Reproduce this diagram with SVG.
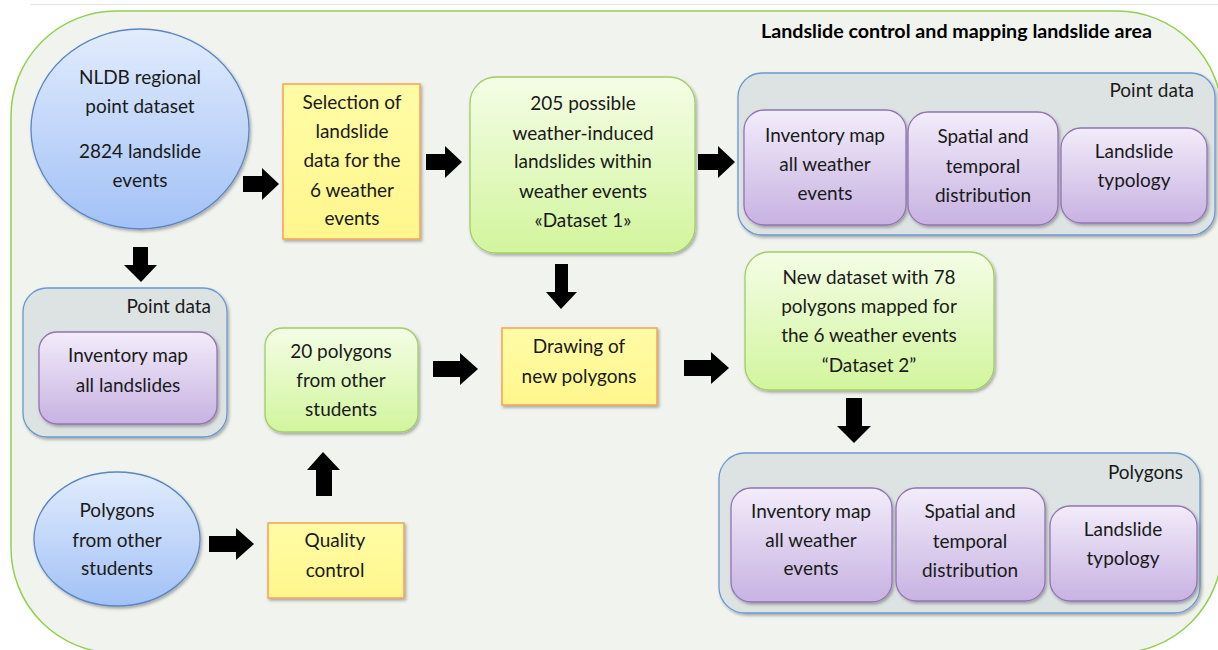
<svg xmlns="http://www.w3.org/2000/svg" width="1218" height="650" viewBox="0 0 1218 650">
<defs>
<linearGradient id="gBlue" x1="0" y1="0" x2="0" y2="1"><stop offset="0" stop-color="#e2ecfd"/><stop offset="1" stop-color="#a2c1f6"/></linearGradient>
<linearGradient id="gGreen" x1="0" y1="0" x2="0" y2="1"><stop offset="0" stop-color="#f4fde6"/><stop offset="1" stop-color="#d2f59d"/></linearGradient>
<linearGradient id="gPurple" x1="0" y1="0" x2="0" y2="1"><stop offset="0" stop-color="#f2ecfa"/><stop offset="1" stop-color="#c8b2e2"/></linearGradient>
<linearGradient id="gYellow" x1="0" y1="0" x2="0" y2="1"><stop offset="0" stop-color="#fffca6"/><stop offset="1" stop-color="#fff68c"/></linearGradient>
<filter id="sh" x="-10%" y="-10%" width="125%" height="130%"><feDropShadow dx="1.5" dy="2" stdDeviation="1.5" flood-color="#000" flood-opacity="0.3"/></filter>
</defs>
<style>
text{font-family:Lato,"Open Sans","Liberation Sans",sans-serif;font-size:19px;fill:#1a1a1a;text-anchor:middle}
.title{font-weight:bold;font-size:18px;text-anchor:start;fill:#000}
.lbl{text-anchor:end}
.blue{fill:url(#gBlue);stroke:#5b86c3;stroke-width:1.3;filter:url(#sh)}
.green{fill:url(#gGreen);stroke:#a2cd68;stroke-width:1.3;filter:url(#sh)}
.purple{fill:url(#gPurple);stroke:#9373b4;stroke-width:1.3;filter:url(#sh)}
.yellow{fill:url(#gYellow);stroke:#f4a25a;stroke-width:1.5;filter:url(#sh)}
.cont{fill:#dde3e3;stroke:#6b99d1;stroke-width:1.3;filter:url(#sh)}
.arr{fill:#000}
</style>
<rect x="0" y="0" width="1218" height="650" fill="#ffffff"/>
<line x1="30" y1="4.5" x2="1218" y2="4.5" stroke="#e4e4e4" stroke-width="1"/>
<g id="frame">
<rect x="11" y="11" width="1211" height="642" rx="105" ry="105" fill="#f1f3ef" stroke="#92d050" stroke-width="1.5"/>
<text class="title" x="761" y="38" textLength="391" lengthAdjust="spacingAndGlyphs">Landslide control and mapping landslide area</text>
</g>
<g id="nldb">
<ellipse class="blue" cx="140" cy="129" rx="109" ry="100"/>
<text x="140" y="84">NLDB regional</text>
<text x="140" y="113">point dataset</text>
<text x="140" y="158">2824 landslide</text>
<text x="140" y="187">events</text>
</g>
<g id="selection">
<rect class="yellow" x="283" y="84" width="137" height="155"/>
<text x="352" y="109">Selection of</text>
<text x="352" y="138">landslide</text>
<text x="352" y="167">data for the</text>
<text x="352" y="197">6 weather</text>
<text x="352" y="225">events</text>
</g>
<g id="dataset1">
<rect class="green" x="470" y="77" width="225" height="176" rx="26"/>
<text x="583" y="110">205 possible</text>
<text x="583" y="140">weather-induced</text>
<text x="583" y="168">landslides within</text>
<text x="583" y="198">weather events</text>
<text x="583" y="227">«Dataset 1»</text>
</g>
<g id="pointdata-top">
<rect class="cont" x="738" y="73" width="477" height="162" rx="24"/>
<text class="lbl" x="1194" y="97">Point data</text>
</g>
<g id="inv-weather-points">
<rect class="purple" x="744" y="110" width="162" height="115" rx="20"/>
<text x="825" y="142">Inventory map</text>
<text x="825" y="171">all weather</text>
<text x="825" y="200">events</text>
</g>
<g id="spatial-points">
<rect class="purple" x="908" y="112" width="150" height="113" rx="20"/>
<text x="983" y="143">Spatial and</text>
<text x="983" y="173">temporal</text>
<text x="983" y="202">distribution</text>
</g>
<g id="typology-points">
<rect class="purple" x="1061" y="128" width="146" height="95" rx="20"/>
<text x="1134" y="158">Landslide</text>
<text x="1134" y="187">typology</text>
</g>
<g id="pointdata-left">
<rect class="cont" x="23" y="288" width="204" height="149" rx="24"/>
<text class="lbl" x="211" y="313">Point data</text>
</g>
<g id="inv-all">
<rect class="purple" x="39" y="332" width="178" height="92" rx="18"/>
<text x="128" y="362">Inventory map</text>
<text x="128" y="392">all landslides</text>
</g>
<g id="polys20">
<rect class="green" x="265" y="328" width="153" height="104" rx="18"/>
<text x="341" y="358">20 polygons</text>
<text x="341" y="387">from other</text>
<text x="341" y="416">students</text>
</g>
<g id="drawing">
<rect class="yellow" x="502" y="328" width="155" height="77"/>
<text x="579" y="353">Drawing of</text>
<text x="579" y="383">new polygons</text>
</g>
<g id="dataset2">
<rect class="green" x="745" y="252" width="249" height="138" rx="24"/>
<text x="869" y="284">New dataset with 78</text>
<text x="869" y="313">polygons mapped for</text>
<text x="869" y="342">the 6 weather events</text>
<text x="869" y="372">“Dataset 2”</text>
</g>
<g id="polygons-ellipse">
<ellipse class="blue" cx="117" cy="539" rx="83" ry="67"/>
<text x="117" y="517">Polygons</text>
<text x="117" y="547">from other</text>
<text x="117" y="575">students</text>
</g>
<g id="quality">
<rect class="yellow" x="268" y="523" width="136" height="75"/>
<text x="335" y="547">Quality</text>
<text x="335" y="577">control</text>
</g>
<g id="polygons-cont">
<rect class="cont" x="719" y="453" width="481" height="160" rx="26"/>
<text class="lbl" x="1183" y="479">Polygons</text>
</g>
<g id="inv-weather-polys">
<rect class="purple" x="731" y="488" width="161" height="114" rx="20"/>
<text x="811" y="518">Inventory map</text>
<text x="811" y="547">all weather</text>
<text x="811" y="575">events</text>
</g>
<g id="spatial-polys">
<rect class="purple" x="896" y="488" width="149" height="113" rx="20"/>
<text x="970" y="518">Spatial and</text>
<text x="970" y="548">temporal</text>
<text x="970" y="577">distribution</text>
</g>
<g id="typology-polys">
<rect class="purple" x="1050" y="506" width="147" height="95" rx="20"/>
<text x="1123" y="536">Landslide</text>
<text x="1123" y="565">typology</text>
</g>
<g id="connectors">
<path class="arr" d="M243 176H262V168L279 184L262 200V192H243Z"/>
<path class="arr" d="M426 154H445V146L462 162L445 178V170H426Z"/>
<path class="arr" d="M698 154H718V146L735 162L718 178V170H698Z"/>
<path class="arr" d="M433 361H460V353L478 369L460 385V377H433Z"/>
<path class="arr" d="M684 360H711V352L729 368L711 384V376H684Z"/>
<path class="arr" d="M209 536H236V528L254 544L236 560V552H209Z"/>
<path class="arr" d="M133 247H148V265H157L141 282L124 265H133Z"/>
<path class="arr" d="M555 264H568V292H577L561 309L546 292H555Z"/>
<path class="arr" d="M846 398H862V426H871L854 443L837 426H846Z"/>
<path class="arr" d="M316 496H332V470H340L323 452L307 470H316Z"/>
</g>
</svg>
